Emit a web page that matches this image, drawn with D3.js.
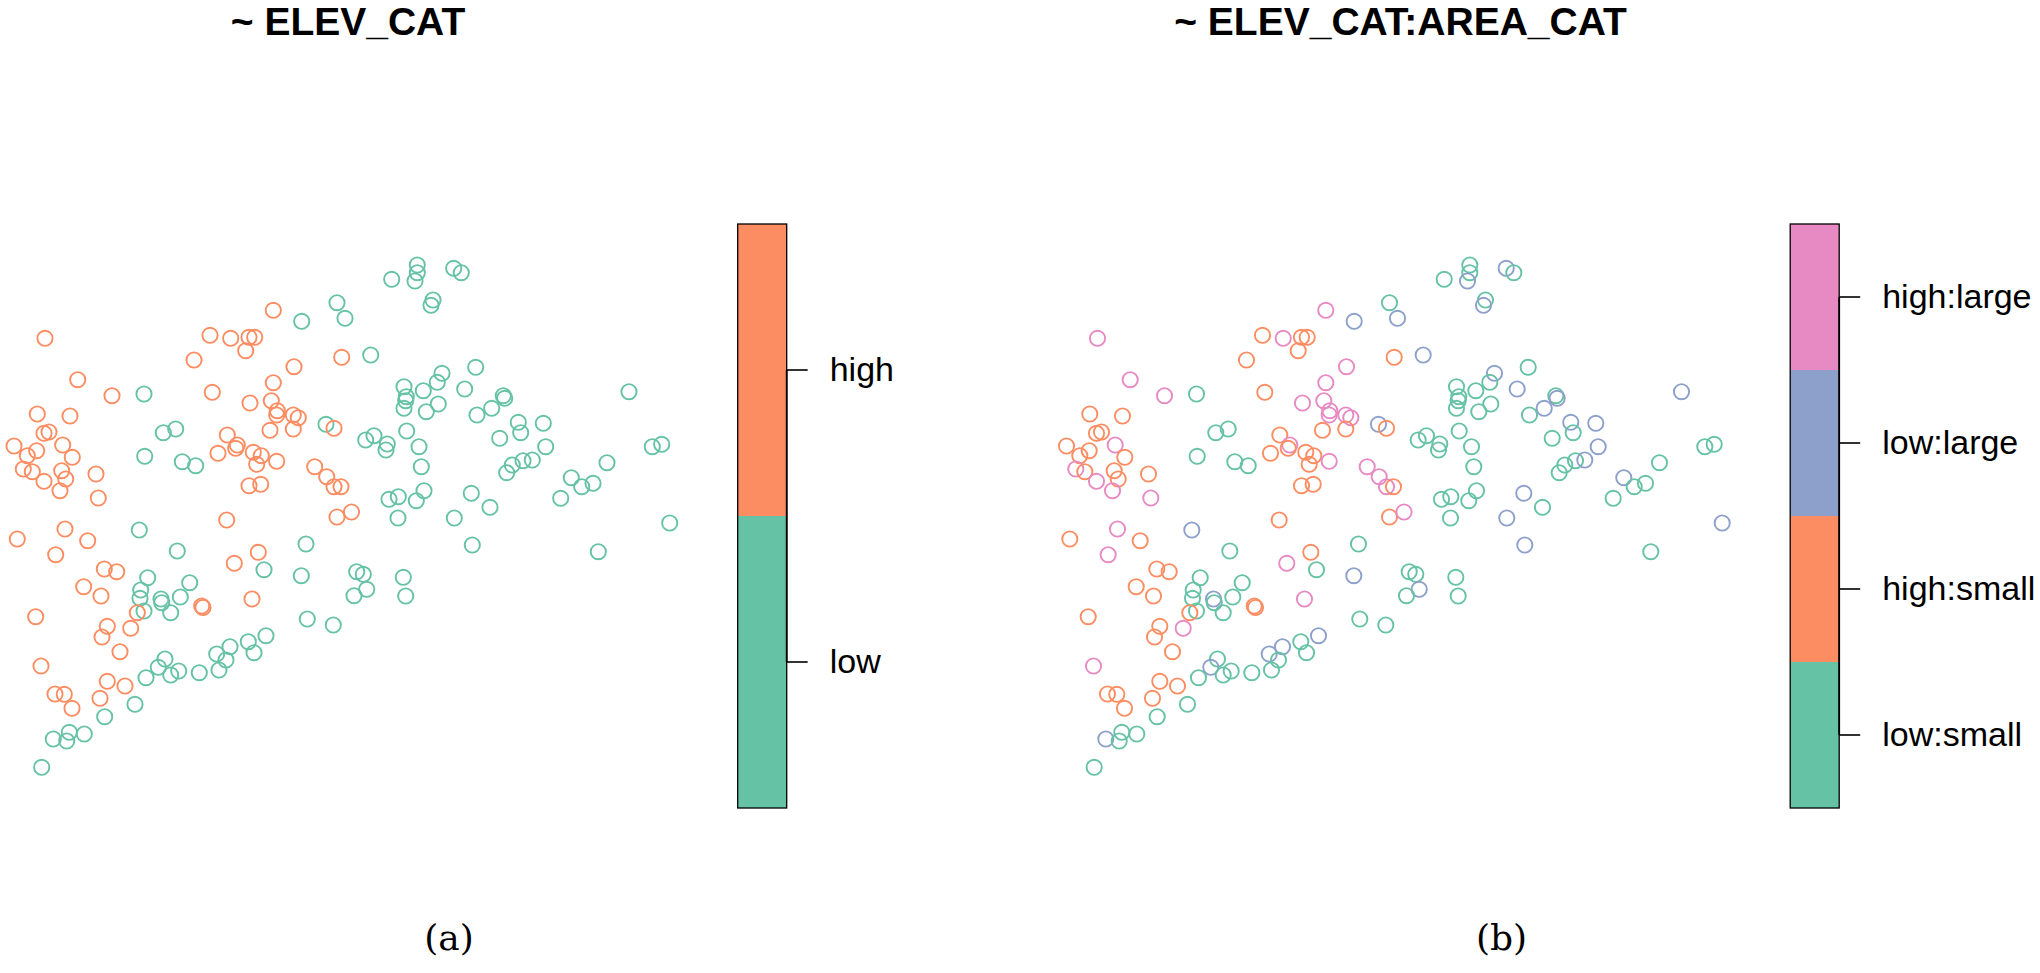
<!DOCTYPE html>
<html>
<head>
<meta charset="utf-8">
<script src="https://cdn.jsdelivr.net/npm/d3@7"></script>
<style>
  html, body { margin: 0; padding: 0; background: #fff; }
  svg { display: block; }
</style>
</head>
<body>
<svg id="chart" width="2040" height="973"></svg>
<script>
// ---- data (site coordinates: easting / northing, arbitrary units) ----
const east = [45,77.7,112,144,273.3,301.7,337,345,210,230.7,249,254.7,245.7,194,294,341.7,273.3,212.3,250,271.3,
  277.3,276.7,293.3,298.3,270,293.3,326,334,37.3,70,44,49,14,36.7,62.7,27.3,72.3,23.3,32.3,61.7,
  65.7,44,60,96,98.3,163.3,175.7,144.7,182.3,195.7,227.3,237.3,235.7,218,253.3,261.3,256.7,276.7,314.7,326.7,
  334,341,249,260.7,226.7,337,351.5,
  391.7,417.3,417.3,415,453.7,461.3,433,431,370.7,475.7,442,437.3,404,423.3,406.3,405.7,404,426.3,438.3,464.7,
  503.3,504.7,491.7,477,518.3,520.7,543.3,499.7,545.7,629,365.7,374,387.3,386,406.7,419,421.3,506.7,512.3,523,
  532.3,571.3,581.7,593,607,652.3,661.7,560.7,389,398.3,416.3,424,471.3,490,398,454.3,669.7,
  17.3,65,87.7,55.7,139.3,177.3,104.3,116.7,258.3,234.3,306,264,301.3,83.7,101,147.7,140.7,140,161,161.7,
  189.7,180.3,170.7,144,137.3,201.7,203,252,35.7,107.3,102,130.7,120,307.3,333.3,266,248.3,254,230,216.7,
  226,219,199.3,165,158.3,178.7,170.7,146,41,107.3,125,55,64.3,72,100,135,104.7,53.3,69.3,66.7,
  84.3,41.7,
  472.3,598.3,356.7,363.3,366.7,354,403.3,405.7];

const north = [461.7,420.3,404.3,406,489.7,478.7,497.3,481.7,464.7,461.7,462.7,462.7,449.3,440,433.3,442.7,417.3,407.7,397,399.3,
  389.3,385,385,382.3,369.7,371,375.7,371.7,386,384,366.7,368,354,349.3,355,344.3,342.7,331,328.3,329.3,
  321,318.7,309.3,326,302,367.3,371,343.7,338.3,334.3,365,355,351.7,346.7,347.7,344.3,335.7,338.7,333.3,323.3,
  313.3,313.3,314.3,315.7,280,283,288,
  520.7,535,527.3,519,531.7,527.3,500,494.7,445,432.7,426.7,417.7,413.3,409.3,403.3,399.3,391.7,388.3,396,411,
  404.3,401.7,391.7,385,377.7,367.3,376.7,361.7,353.3,408.3,360,364.3,356,350,369,353.3,333.3,327.3,335,339.3,
  340,322.3,313.3,316.7,337.3,353.3,355.7,301.7,300.7,303.3,299.3,309.3,306.7,292.7,282,282,277,
  261,271,259.3,245.3,270,249,231,228.3,247.7,236.7,256,230.3,224.3,213.3,204,222.3,210,201.7,201,197.3,
  217.3,203,187.3,189,187.3,194,192.5,201,183.3,173.7,163,171.7,148.3,181,175,164.3,158.3,147.3,153.3,146,
  140,130,127.3,141,132.7,129,125,122.3,134,118.7,114,106,105.7,91.7,101.7,95.7,83.3,61,67.7,59,
  66,32.7,
  255,248.3,228.3,225.7,210.7,204.3,222.7,204];

// group codes: H/L = elevation high/low, S/L = area small/large
const group = ("HL HL HL LS HL LL LS LL HS HL HS HS HS HS HL HS HL HS HL HL " +
  "HL HL HL HL HS HS LL HS HS HS HS HS HS HS HL HS HS HL HS HS " +
  "HS HL HL HS HL LS LS LS LS LS HS HL HS HS HS HS HS HL HL HL " +
  "HL HS HS HS HS HS HL " +
  "LS LS LS LL LL LS LS LL LL LS LL LS LS LS LS LS LS LS LS LL " +
  "LS LL LL LS LL LS LL LS LL LL LS LS LS LS LS LS LS LS LS LS " +
  "LL LL LS LS LS LS LS LS LS LS LS LS LL LS LS LL LL " +
  "HS HL HS HL LL LS HS HS HS HL LS LS LL HS HS LS LS LS LL LS " +
  "LS LS LS LS HS HS HS HL HS HS HS HL HS LS LS LL LS LS LL LL " +
  "LS LS LS LS LL LS LS LS HL HS HS HS HS HS HS LS LS LL LS LS " +
  "LS LS " +
  "LL LS LS LS LL LS LS LS").split(" ");

const elevLevels = ["low", "high"];
const elevColors = ["#66C2A5", "#FC8D62"];
const comboLevels = ["low:small", "high:small", "low:large", "high:large"];
const comboColors = ["#66C2A5", "#FC8D62", "#8DA0CB", "#E78AC3"];
const titles = ["~ ELEV_CAT", "~ ELEV_CAT:AREA_CAT"];
const captions = ["(a)", "(b)"];

// ---- helpers ----
const codeToElev = c => c[0] === "H" ? "high" : "low";
const codeToCombo = c => codeToElev(c) + ":" + (c[1] === "S" ? "small" : "large");

const svg = d3.select("#chart");
const panelShift = 1052.5;

function drawPanel(idx, levels, colors, catOf) {
  const ox = idx * panelShift;
  const x = d3.scaleLinear().domain([0, 700]).range([ox, ox + 700]);
  const y = d3.scaleLinear().domain([0, 560]).range([800, 240]);
  const color = d3.scaleOrdinal().domain(levels).range(colors);
  const g = svg.append("g");

  g.selectAll("circle").data(d3.range(east.length)).join("circle")
    .attr("cx", i => x(east[i]))
    .attr("cy", i => y(north[i]))
    .attr("r", 7.6)
    .attr("fill", "none")
    .attr("stroke", i => color(catOf(group[i])))
    .attr("stroke-width", 1.9);

  // title
  svg.append("text")
    .attr("x", ox + 348).attr("y", 34.5)
    .attr("text-anchor", "middle")
    .style("font-family", "'Liberation Sans', Arial, sans-serif")
    .style("font-weight", "bold")
    .style("font-size", "39px")
    .text(titles[idx]);

  // caption
  svg.append("text")
    .attr("x", ox + 449).attr("y", 950)
    .attr("text-anchor", "middle")
    .style("font-family", "'DejaVu Serif', 'Liberation Serif', serif")
    .style("font-size", "36px")
    .text(captions[idx]);

  // colour key
  const bx0 = 737.7 + ox, bx1 = 786.7 + ox;
  const band = d3.scaleBand().domain(levels.slice().reverse()).range([224, 808]).paddingInner(0).paddingOuter(0);
  const key = svg.append("g");
  key.selectAll("rect.seg").data(levels).join("rect")
    .attr("class", "seg")
    .attr("x", bx0).attr("width", bx1 - bx0)
    .attr("y", d => band(d)).attr("height", band.bandwidth())
    .attr("fill", d => color(d));
  key.append("rect")
    .attr("x", bx0).attr("y", 224).attr("width", bx1 - bx0).attr("height", 584)
    .attr("fill", "none").attr("stroke", "#000").attr("stroke-width", 1.3);

  const axis = d3.axisRight(band).tickSize(21).tickPadding(22).tickSizeOuter(0);
  const ag = key.append("g").attr("transform", `translate(${bx1},0)`).call(axis);
  ag.select(".domain").remove();
  ag.selectAll(".tick line").attr("stroke", "#000").attr("stroke-width", 1.6);
  ag.selectAll(".tick text")
    .style("font-family", "'Liberation Sans', Arial, sans-serif")
    .style("font-size", "34px")
    .attr("fill", "#000");
  const first = band(levels[levels.length - 1]) + band.bandwidth() / 2;
  const last = band(levels[0]) + band.bandwidth() / 2;
  key.append("line")
    .attr("x1", bx1).attr("x2", bx1).attr("y1", first).attr("y2", last)
    .attr("stroke", "#000").attr("stroke-width", 1.8);
}

drawPanel(0, elevLevels, elevColors, codeToElev);
drawPanel(1, comboLevels, comboColors, codeToCombo);
</script>
</body>
</html>
